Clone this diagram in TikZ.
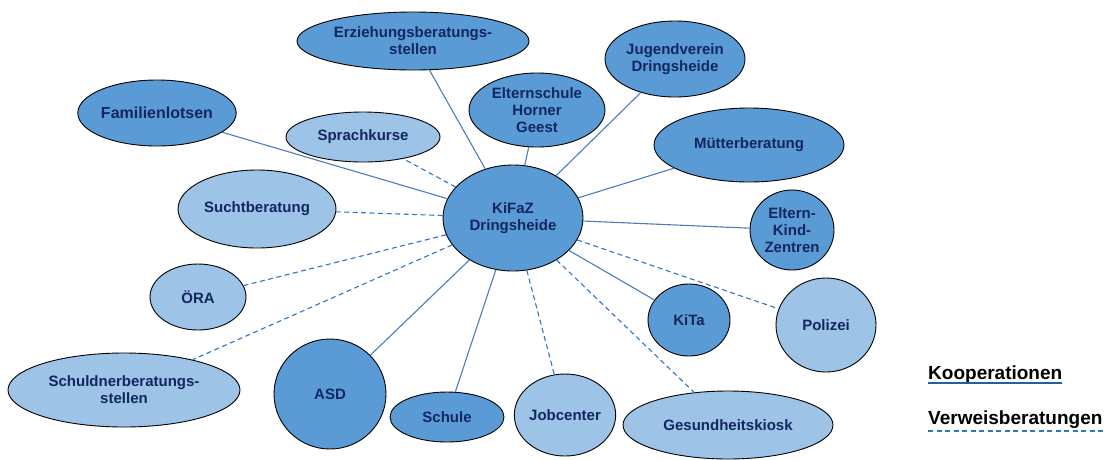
\documentclass[tikz,border=0pt]{standalone}
\usepackage{fontspec}
\setmainfont{Liberation Sans}
\usetikzlibrary{shapes.geometric}
\definecolor{darkfill}{RGB}{91,155,213}
\definecolor{lightfill}{RGB}{157,195,230}
\definecolor{navy}{RGB}{18,38,96}
\definecolor{solidline}{RGB}{74,126,187}
\definecolor{dashline}{RGB}{46,117,200}
\tikzset{
  org/.style={ellipse, draw=black, line width=0.9pt, inner sep=0pt, align=center,
    font=\fontsize{15}{17}\selectfont\bfseries, text=navy},
  darkorg/.style={org, fill=darkfill},
  lightorg/.style={org, fill=lightfill},
  koop/.style={draw=solidline, line width=1.1pt},
  verw/.style={draw=dashline, line width=1.1pt, dash pattern=on 5pt off 3.5pt},
  legend/.style={font=\fontsize{19}{22}\selectfont\bfseries, text=black, inner sep=0pt, anchor=west}
}
\begin{document}
\begin{tikzpicture}[x=1pt,y=-1pt]
\useasboundingbox (0,0) rectangle (1107,459);
% nodes
\node[darkorg, minimum width=140pt, minimum height=106pt] (kifaz) at (513,218) {KiFaZ\\Dringsheide};
\node[darkorg, minimum width=232pt, minimum height=58pt] (erz) at (413,41) {Erziehungsberatungs-\\stellen};
\node[darkorg, minimum width=140pt, minimum height=76pt] (jug) at (675,59) {Jugendverein\\Dringsheide};
\node[darkorg, minimum width=136pt, minimum height=74pt] (elt) at (537,110) {Elternschule\\Horner\\Geest};
\node[darkorg, minimum width=156pt, minimum height=66pt, font=\fontsize{16}{18}\selectfont\bfseries] (fam) at (157,113) {Familienlotsen};
\node[lightorg, minimum width=154pt, minimum height=50pt] (spr) at (363,137) {Sprachkurse};
\node[darkorg, minimum width=190pt, minimum height=74pt] (mue) at (749,145) {Mütterberatung};
\node[lightorg, minimum width=158pt, minimum height=78pt] (sucht) at (257,209) {Suchtberatung};
\node[darkorg, minimum width=84pt, minimum height=80pt] (ekz) at (792,230) {Eltern-\\Kind-\\Zentren};
\node[lightorg, minimum width=96pt, minimum height=66pt] (oera) at (198,297) {ÖRA};
\node[darkorg, minimum width=82pt, minimum height=72pt] (kita) at (689,320) {KiTa};
\node[lightorg, minimum width=100pt, minimum height=94pt] (pol) at (826,325) {Polizei};
\node[lightorg, minimum width=232pt, minimum height=74pt] (schuld) at (124,390) {Schuldnerberatungs-\\stellen};
\node[darkorg, minimum width=112pt, minimum height=110pt] (asd) at (330,394) {ASD};
\node[darkorg, minimum width=114pt, minimum height=50pt] (schule) at (447,417) {Schule};
\node[lightorg, minimum width=98pt, minimum height=82pt] (job) at (565,415) {Jobcenter};
\node[lightorg, minimum width=210pt, minimum height=68pt] (ges) at (728,425) {Gesundheitskiosk};
% connectors
\draw[koop] (kifaz) -- (erz);
\draw[koop] (kifaz) -- (elt);
\draw[koop] (kifaz) -- (jug);
\draw[koop] (kifaz) -- (fam);
\draw[koop] (kifaz) -- (mue);
\draw[koop] (kifaz) -- (ekz);
\draw[koop] (kifaz) -- (kita);
\draw[koop] (kifaz) -- (asd);
\draw[koop] (kifaz) -- (schule);
\draw[verw] (kifaz) -- (spr);
\draw[verw] (kifaz) -- (sucht);
\draw[verw] (kifaz) -- (oera);
\draw[verw] (kifaz) -- (schuld);
\draw[verw] (kifaz) -- (job);
\draw[verw] (kifaz) -- (ges);
\draw[verw] (kifaz) -- (pol);
% legend
\node[legend] (lk) at (928,375) {Kooperationen};
\node[legend] (lv) at (928,420) {Verweisberatungen};
\draw[koop, line width=1.6pt, draw=dashline!80!black] ([yshift=-3pt]lk.base west) -- ([yshift=-3pt]lk.base east);
\draw[verw, line width=1.6pt] ([yshift=-6pt]lv.base west) -- ([yshift=-6pt]lv.base east);
\end{tikzpicture}
\end{document}
